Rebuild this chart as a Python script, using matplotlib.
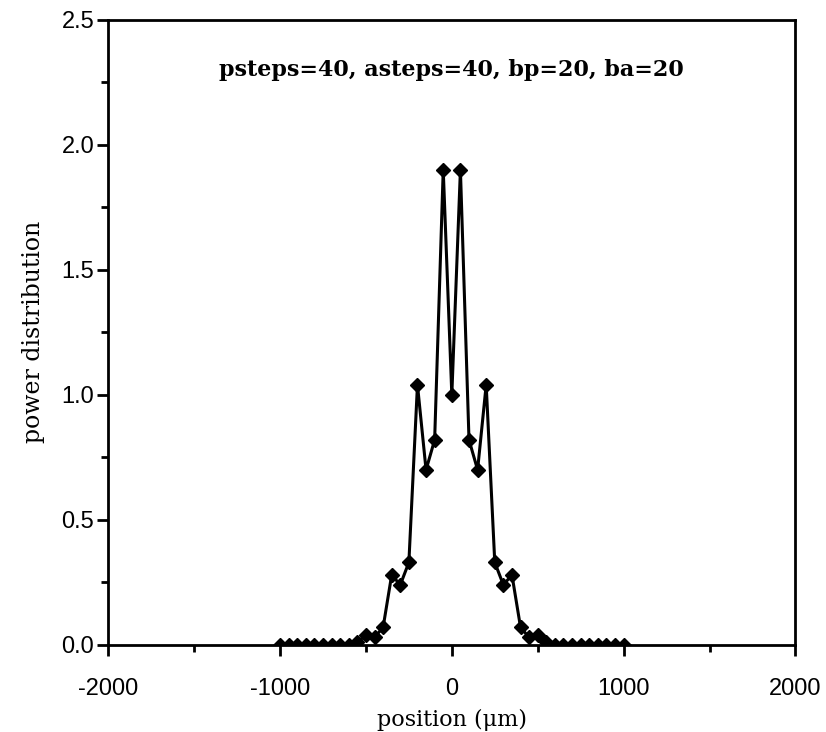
import numpy as np
import matplotlib
matplotlib.use("Agg")
import matplotlib.pyplot as plt

plt.rcParams["axes.unicode_minus"] = False

# positions in um (step 50) and power values
posicao = np.arange(-1000, 1001, 50)
metade = [0.0, 0.0, 0.0, 0.0, 0.0, 0.0, 0.0, 0.0, 0.0, 0.01,
          0.04, 0.03, 0.07, 0.28, 0.24, 0.33, 1.04, 0.70, 0.82, 1.90]
potencia = metade + [1.0] + metade[::-1]

titulo = "psteps=40, asteps=40, bp=20, ba=20"
xticks = [-2000, -1000, 0, 1000, 2000]
yticks = [0.0, 0.5, 1.0, 1.5, 2.0, 2.5]

fig = plt.figure(figsize=(8.26, 7.32), dpi=100)
ax = fig.add_axes([0.131, 0.119, 0.832, 0.854])

ax.plot(posicao, potencia, color="black", linewidth=2.2,
        marker="D", markersize=7, markerfacecolor="black", markeredgecolor="black")

ax.set_xlim(-2000, 2000)
ax.set_ylim(0, 2.5)
ax.set_xticks(xticks)
ax.set_xticklabels([str(v) for v in xticks])
ax.set_xticks([-1500, -500, 500, 1500], minor=True)
ax.set_yticks(yticks)
ax.set_yticklabels([f"{v:.1f}" for v in yticks])
ax.set_yticks([0.25, 0.75, 1.25, 1.75, 2.25], minor=True)

for s in ax.spines.values():
    s.set_linewidth(2)

ax.tick_params(which="major", direction="out", length=8, width=2, labelsize=17)
ax.tick_params(axis="x", which="major", pad=16)
ax.tick_params(axis="y", which="major", pad=2)
ax.tick_params(which="minor", direction="out", length=5, width=2)
for lab in ax.get_xticklabels() + ax.get_yticklabels():
    lab.set_family("Liberation Sans")

ax.set_xlabel("position (\u03bcm)", family="DejaVu Serif", fontsize=16, labelpad=6)
ax.set_ylabel("power distribution", family="DejaVu Serif", fontsize=17, labelpad=12)

ax.text(0, 2.3, titulo, ha="center", va="center", family="DejaVu Serif",
        fontweight="bold", fontsize=16)

fig.savefig("out.png", dpi=100)
